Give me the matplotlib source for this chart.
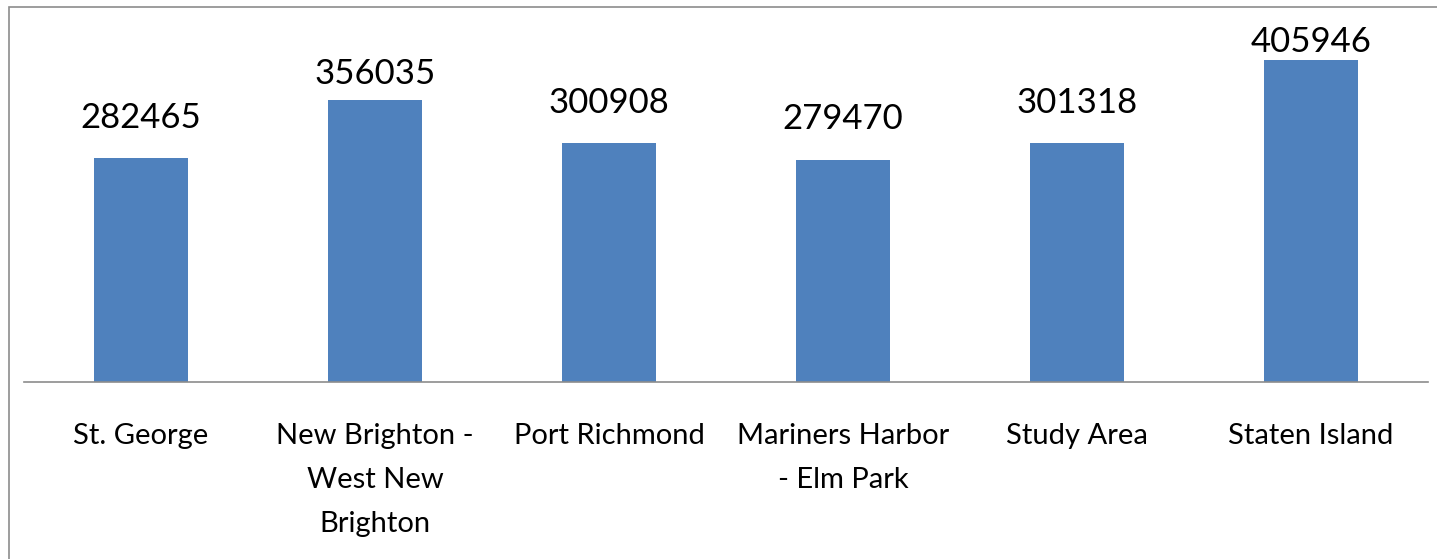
import matplotlib.pyplot as plt
from matplotlib.patches import Rectangle

# median household values by area
areas = ["St. George", "New Brighton -\nWest New\nBrighton", "Port Richmond",
         "Mariners Harbor\n- Elm Park", "Study Area", "Staten Island"]
values = [282465, 356035, 300908, 279470, 301318, 405946]
# label gap above each bar, in pixels (tall bars get squeezed under the top)
label_gap = [24, 10, 24, 25, 24, 2]

plt.rcParams['font.family'] = ['Lato', 'DejaVu Sans']

W, H = 1437, 559
fig = plt.figure(figsize=(W / 100, H / 100), dpi=100)
ax = fig.add_axes([24 / W, 1 - 382 / H, 1404 / W, 357 / H])

# chart area outline
fig.patches.append(Rectangle((9 / W, -0.1), 1.2, 1.1 - 7 / H, transform=fig.transFigure,
                             fill=False, edgecolor='#8c8c8c', linewidth=1.2))

x = range(len(areas))
bars = ax.bar(x, values, width=0.4, color='#4F81BD')
ax.set_xlim(-0.5, len(areas) - 0.5)
ax.set_ylim(0, 450000)

for b, v, g in zip(bars, values, label_gap):
    ax.annotate(str(v), (b.get_x() + b.get_width() / 2, v), xytext=(0, g * 0.72),
                textcoords='offset points', ha='center', va='bottom', fontsize=25)

ax.set_xticks(list(x))
ax.set_xticklabels(areas, fontsize=21, linespacing=1.85)
ax.tick_params(axis='x', length=0, pad=29.5)
ax.set_yticks([])
for s in ['top', 'right', 'left']:
    ax.spines[s].set_visible(False)
ax.spines['bottom'].set_color('#8c8c8c')
ax.spines['bottom'].set_linewidth(1.2)

fig.savefig('out.png', dpi=100)
